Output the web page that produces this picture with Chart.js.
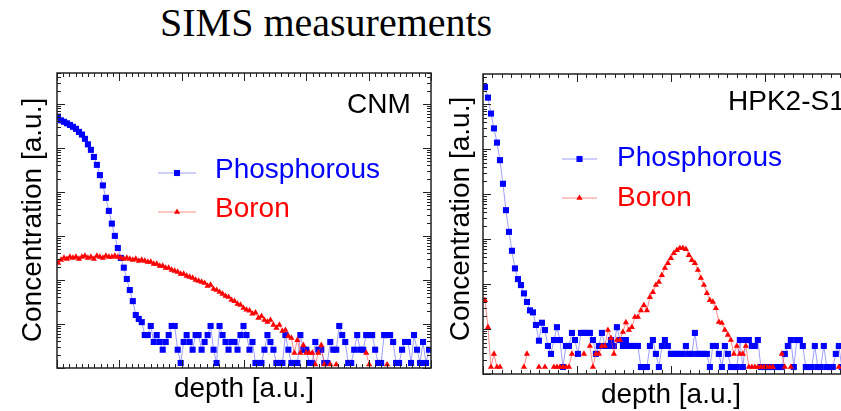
<!DOCTYPE html>
<html>
<head>
<meta charset="utf-8">
<script src="https://cdn.jsdelivr.net/npm/chart.js@4.4.0/dist/chart.umd.min.js"></script>
<style>
html, body { margin: 0; padding: 0; background: #fff; overflow: hidden; width: 841px; height: 411px; }
#title { position: absolute; left: 160px; top: 3px; font: 40px "Liberation Serif", "Times New Roman", serif; line-height: 40px; color: #000; white-space: nowrap; }
canvas { position: absolute; top: 0; }
#cnm { left: 0; }
#hpk { left: 440px; }
</style>
</head>
<body>
<div id="title">SIMS measurements</div>
<canvas id="cnm" width="440" height="411"></canvas>
<canvas id="hpk" width="430" height="411"></canvas>
<script>
// depth sampling (a.u.) of the two profiles
var cnmDepthStart = 1.6, cnmDepthStep = 4.8;
var hpkDepthStart = 2.1, hpkDepthStep = 3.19;

// CNM - concentration (a.u.), null = no counts
var cnmPhosphorous = [
  5.1e5, 4.2e5, 3.9e5, 3.6e5, 3.3e5, 3.0e5, 2.7e5, 2.3e5, 2.0e5, 1.6e5,
  1.2e5, 9.0e4, 6.2e4, 4.1e4, 2.4e4, 1.4e4, 7.3e3, 3.7e3, 1.9e3, 1.0e3,
  530, 316, 190, 105, 59, 33, 16, 13, 11,
  5.6, 5.6, 9, 3.9, 5.6, 3.9, 2.6, 3.9, 5.6, 9,
  9, 2.6, 1.3, 3.9, 5.6, 3.9, 2.6, 5.6, 5.6, 2.6,
  3.9, 5.6, 9, 2.6, 1.3, 9, 5.6, 3.9, 2.6, 3.9,
  3.9, 2.6, 5.6, 9, 5.6, 2.6, 3.9, 1.3, 1.3, 1.3,
  2.6, 5.6, 3.9, 2.6, 1.3, 1.3, 1.3, 5.6, 2.6, 1.3,
  1.3, 1.3, 5.6, 2.6, 2.6, 1.3, 1.3, 3.9, 2.6, 2.6,
  1.3, 1.3, 3.9, 2.6, 2.6, 9, 5.6, 3.9, 1.3, 1.3,
  2.6, 5.6, 2.6, 2.6, 5.6, 5.6, 5.6, 2.6, 1.3, 1.3,
  5.6, 5.6, 5.6, 3.9, 1.3, 1.3, 2.6, 3.9, 3.9, 1.3,
  5.6, 2.6, 1.3, 3.9, 1.3, 2.6
];
var cnmBoron = [
  243, 285, 316, 300, 333, 316, 333, 300, 333, 351,
  316, 333, 300, 351, 333, 316, 351, 333, 333, 351,
  333, 316, 300, 316, 300, 285, 300, 270, 285, 270,
  257, 257, 231, 231, 208, 208, 187, 187, 169, 160,
  152, 137, 137, 123, 117, 111, 100, 95, 90, 85,
  73, 77, 62, 59, 53, 48, 43, 41, 35, 33,
  28.5, 27, 23, 21, 20, 17, 18, 13.7, 15, 12.3,
  11.1, 12.3, 9.5, 8.1, 9.5, 6.9, 7.3, 5.3, 4.8, 2.2,
  4.3, 2.2, 3.3, 2.2, 2.2, 2.2, 1.2, 2.2, 3.3, 1.2,
  null, 1.2, null, 1.2, null, null, null, null, null, null,
  null, null, null, 2.2, 1.2, null, null, null, null, null,
  1.2, null, null, null, null, null, null, null, null, null,
  null, null, null, null, null
];

// HPK2-S1 - concentration (a.u.)
var hpkPhosphorous = [
  2.4e6, 1.4e6, 6.2e5, 2.9e5, 1.4e5, 5.7e4, 1.7e4, 4.4e3, 1.45e3, 550,
  223, 129, 95, 62, 40, 26, 23.5, 12.3, 5.5, 13.8,
  9.5, 4.2, 2.8, 5.7, 11, 5.7, 1.43, 4.2, 4.2, 8.2,
  5.7, 2.8, 8.2, 8.2, 8.2, 8.2, 5.7, 2.8, 4.2, 8.2,
  4.2, 4.2, 5.7, 4.2, 11, 5.7, 4.2, 5.7, 4.2, 4.2,
  4.2, 4.2, 1.43, 1.43, 1.43, 4.2, 5.7, 2.8, 1.43, 4.2,
  5.7, 4.2, 2.8, 2.8, 2.8, 2.8, 2.8, 4.2, 2.8, 2.8,
  8.2, 2.8, 2.8, 2.8, 2.8, 1.43, 4.2, 4.2, 2.8, 1.43,
  4.2, 2.8, 1.43, 1.43, 1.43, 5.7, 1.43, 5.7, 5.7, 4.2,
  4.2, 5.7, 1.43, 1.43, 1.43, 1.43, 1.43, 1.43, 1.43, 1.43,
  2.8, 4.2, 5.7, 1.43, 5.7, 5.7, 4.2, 1.43, 1.43, 1.43,
  4.2, 1.43, 1.43, 4.2, 1.43, 1.43, 1.43, 2.8, 4.2, 1.43,
  2.8, 1.43, 4.2, 1.43, 2.8
];
var hpkBoron = [
  44, 11, 1.43, 2.8, 1.43, 1.43, null, null, null, null,
  null, null, null, 1.43, 2.8, null, null, null, 1.43, null,
  1.43, null, null, 1.43, 1.43, 1.43, 1.43, 1.43, 1.43, 2.8,
  null, null, null, 2.8, null, 4.2, 1.43, 2.8, 2.8, 4.2,
  4.2, 9.5, 6.3, 2.8, 5.7, 5.7, 8.6, 14, 9.5, 11,
  18.5, 18.5, 26, 34, 26, 51, 66, 95, 111, 158,
  227, 293, 378, 489, 570, 630, 630, 600, 440, 341,
  293, 205, 136, 95, 63, 44, 40, 29, 14.3, 13.6,
  9.5, 7.4, 5.7, 2.8, 4.2, 2.8, 2.8, 4.2, 1.43, 1.43,
  1.43, 1.43, 1.43, 1.43, 1.43, 1.43, 1.43, null, null, 2.8,
  1.43, null, 1.43, null, null, null, null, null, null, null,
  null, null, null, null, null, null, null, null, 1.43, null,
  null, null, null, null, null
];

var blue = '#0000ff', red = '#ff0000';
var sansFont = '"Liberation Sans", Arial, sans-serif';

function points(values, start, step) {
  return values.map(function (v, i) { return { x: start + i * step, y: v }; });
}

function strokeLine(ctx, x1, y1, x2, y2) {
  ctx.beginPath();
  ctx.moveTo(x1, y1);
  ctx.lineTo(x2, y2);
  ctx.stroke();
}

function marker(ctx, style, x, y, r, color) {
  ctx.fillStyle = color;
  ctx.beginPath();
  if (style === 'rect') {
    var s = r * Math.SQRT1_2;
    ctx.rect(x - s, y - s, 2 * s, 2 * s);
  } else {
    var a = 2 * Math.PI / 3;
    ctx.moveTo(x, y - r);
    ctx.lineTo(x + r * Math.sin(a), y - r * Math.cos(a));
    ctx.lineTo(x + r * Math.sin(2 * a), y - r * Math.cos(2 * a));
    ctx.closePath();
  }
  ctx.fill();
}

// ROOT style frame: inward ticks on all four sides, labels, legend
var rootFrame = {
  id: 'rootFrame',
  afterDatasetsDraw: function (chart, args, o) {
    var ctx = chart.ctx, a = chart.chartArea;
    var xs = chart.scales.x, ys = chart.scales.y;
    ctx.save();
    ctx.strokeStyle = '#222';
    ctx.lineWidth = 1;

    var n = Math.round((xs.max - xs.min) / o.xMinor);
    for (var k = 0; k <= n; k++) {
      var v = xs.min + k * o.xMinor;
      var px = Math.round(xs.getPixelForValue(v)) + 0.5;
      var len = (k % Math.round(o.xMajor / o.xMinor) === 0) ? 8 : 4;
      strokeLine(ctx, px, a.bottom, px, a.bottom - len);
      strokeLine(ctx, px, a.top, px, a.top + len);
    }
    var e0 = Math.floor(Math.log10(ys.min)), e1 = Math.ceil(Math.log10(ys.max));
    for (var e = e0; e <= e1; e++) {
      for (var m = 1; m <= 9; m++) {
        var val = m * Math.pow(10, e);
        if (val < ys.min || val > ys.max) continue;
        var py = Math.round(ys.getPixelForValue(val)) + 0.5;
        var l = m === 1 ? 8 : 4;
        strokeLine(ctx, a.left, py, a.left + l, py);
        strokeLine(ctx, a.right, py, a.right - l, py);
      }
    }
    ctx.lineWidth = 1.5;
    ctx.strokeRect(a.left, a.top, a.right - a.left, a.bottom - a.top);

    ctx.font = '28px ' + sansFont;
    ctx.fillStyle = '#000';
    ctx.textBaseline = 'alphabetic';
    ctx.textAlign = 'left';
    ctx.fillText(o.name, o.nameX, o.nameY);

    ctx.textAlign = 'center';
    ctx.fillText('depth [a.u.]', (a.left + a.right) / 2, o.xTitleY);
    ctx.save();
    ctx.translate(o.yTitleX, o.yTitleY);
    ctx.rotate(-Math.PI / 2);
    ctx.fillText('Concentration [a.u.]', 0, 0);
    ctx.restore();

    ctx.textAlign = 'left';
    chart.data.datasets.forEach(function (ds, i) {
      var row = o.legend[ds.label];
      ctx.strokeStyle = ds.borderColor;
      ctx.lineWidth = 1;
      strokeLine(ctx, o.legendX1, row.line, o.legendX2, row.line);
      marker(ctx, ds.pointStyle, (o.legendX1 + o.legendX2) / 2, row.line, ds.pointRadius, ds.pointBackgroundColor);
      ctx.fillStyle = ds.pointBackgroundColor;
      ctx.fillText(ds.label, o.textX, row.text);
    });
    ctx.restore();
  }
};

function makePanel(id, phos, boron, start, step, cfg) {
  return new Chart(document.getElementById(id).getContext('2d'), {
    type: 'line',
    data: {
      datasets: [
        {
          label: 'Boron',
          data: points(boron, start, step),
          borderColor: 'rgba(255,60,60,0.6)',
          borderWidth: 1,
          pointStyle: 'triangle',
          pointRadius: 3.6,
          pointBackgroundColor: red,
          pointBorderWidth: 0,
          spanGaps: false,
          order: 1
        },
        {
          label: 'Phosphorous',
          data: points(phos, start, step),
          borderColor: 'rgba(80,80,255,0.55)',
          borderWidth: 1,
          pointStyle: 'rect',
          pointRadius: 4.3,
          pointBackgroundColor: blue,
          pointBorderWidth: 0,
          spanGaps: false,
          order: 2
        }
      ]
    },
    options: {
      responsive: false,
      animation: false,
      events: [],
      layout: { padding: cfg.padding },
      scales: {
        x: { type: 'linear', display: false, min: 0, max: cfg.xMax },
        y: { type: 'logarithmic', display: false, min: 1, max: cfg.yMax }
      },
      plugins: {
        legend: { display: false },
        tooltip: { enabled: false },
        rootFrame: cfg.frame
      }
    },
    plugins: [rootFrame]
  });
}

makePanel('cnm', cnmPhosphorous, cnmBoron, cnmDepthStart, cnmDepthStep, {
  padding: { left: 57, top: 73, right: 9, bottom: 43 },
  xMax: 600,
  yMax: 5e6,
  frame: {
    xMinor: 10, xMajor: 100,
    name: 'CNM', nameX: 347, nameY: 113,
    xTitleY: 397, yTitleX: 41, yTitleY: 220,
    legendX1: 158, legendX2: 196, textX: 215,
    legend: { 'Phosphorous': { line: 173, text: 178 }, 'Boron': { line: 212, text: 217 } }
  }
});

makePanel('hpk', hpkPhosphorous, hpkBoron, hpkDepthStart, hpkDepthStep, {
  padding: { left: 43, top: 74, right: 11, bottom: 37 },
  xMax: 400,
  yMax: 4.7e6,
  frame: {
    xMinor: 10, xMajor: 100,
    name: 'HPK2-S1', nameX: 288, nameY: 110,
    xTitleY: 403, yTitleX: 29, yTitleY: 219,
    legendX1: 122, legendX2: 157, textX: 177,
    legend: { 'Phosphorous': { line: 159, text: 166 }, 'Boron': { line: 198, text: 206 } }
  }
});
</script>
</body>
</html>
